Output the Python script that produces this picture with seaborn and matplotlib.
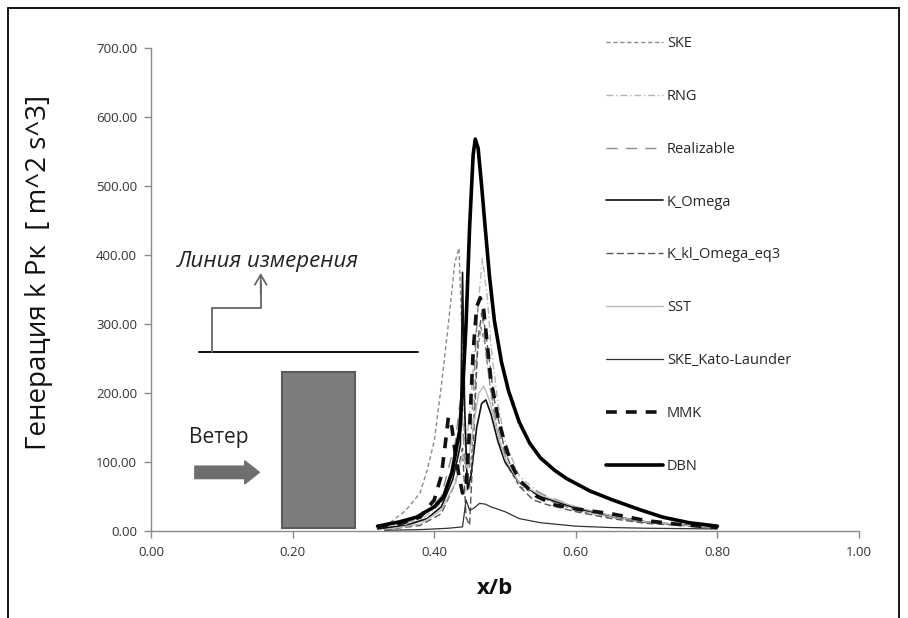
import numpy as np
import pandas as pd
import matplotlib
matplotlib.use("Agg")
import matplotlib.pyplot as plt
import seaborn as sns
from matplotlib.patches import Rectangle, FancyArrowPatch

# ---------------- data ----------------
ske_x = [0.32, 0.34, 0.36, 0.38, 0.39, 0.40, 0.41, 0.42, 0.429, 0.435, 0.44, 0.445, 0.45, 0.455, 0.46, 0.466, 0.472, 0.48, 0.49, 0.50, 0.52, 0.54, 0.56, 0.60, 0.65, 0.70, 0.80]
ske_y = [4, 14, 30, 55, 88, 130, 210, 300, 388, 410, 260, 90, 60, 150, 250, 295, 270, 200, 140, 100, 65, 55, 45, 30, 20, 12, 5]

rng_x = [0.33, 0.38, 0.41, 0.43, 0.44, 0.445, 0.45, 0.46, 0.468, 0.475, 0.48, 0.49, 0.50, 0.52, 0.54, 0.56, 0.60, 0.65, 0.70, 0.80]
rng_y = [3, 15, 40, 100, 160, 120, 170, 300, 395, 340, 270, 185, 130, 80, 62, 48, 32, 20, 12, 5]

real_x = [0.33, 0.38, 0.41, 0.43, 0.438, 0.443, 0.448, 0.455, 0.462, 0.468, 0.475, 0.485, 0.50, 0.52, 0.54, 0.56, 0.60, 0.65, 0.70, 0.80]
real_y = [3, 18, 50, 130, 200, 100, 60, 200, 330, 310, 240, 170, 110, 70, 60, 50, 35, 22, 13, 5]

kom_x = [0.32, 0.36, 0.39, 0.41, 0.426, 0.434, 0.437, 0.44, 0.443, 0.447, 0.452, 0.46, 0.467, 0.473, 0.48, 0.49, 0.50, 0.52, 0.55, 0.60, 0.65, 0.70, 0.80]
kom_y = [3, 8, 18, 35, 74, 110, 125, 375, 180, 60, 80, 150, 185, 190, 170, 130, 100, 70, 50, 33, 22, 13, 5]

kkl_x = [0.33, 0.38, 0.41, 0.43, 0.44, 0.445, 0.45, 0.455, 0.462, 0.468, 0.475, 0.485, 0.50, 0.52, 0.54, 0.56, 0.60, 0.65, 0.70, 0.80]
kkl_y = [2, 8, 25, 70, 120, 20, 8, 120, 280, 320, 270, 190, 115, 65, 45, 38, 28, 18, 11, 5]

sst_x = [0.33, 0.38, 0.41, 0.43, 0.44, 0.447, 0.455, 0.463, 0.47, 0.478, 0.49, 0.50, 0.52, 0.55, 0.60, 0.65, 0.70, 0.80]
sst_y = [2, 10, 30, 70, 110, 90, 150, 200, 210, 190, 140, 105, 70, 52, 35, 22, 13, 5]

kl_x = [0.33, 0.38, 0.42, 0.44, 0.445, 0.45, 0.456, 0.464, 0.472, 0.48, 0.50, 0.52, 0.55, 0.60, 0.65, 0.70, 0.80]
kl_y = [1, 2, 4, 6, 45, 30, 33, 40, 39, 35, 28, 18, 12, 7, 5, 4, 3]

mmk_x = [0.32, 0.35, 0.38, 0.40, 0.41, 0.415, 0.42, 0.425, 0.43, 0.435, 0.44, 0.445, 0.45, 0.455, 0.46, 0.465, 0.47, 0.475, 0.48, 0.49, 0.50, 0.51, 0.52, 0.545, 0.57, 0.60, 0.65, 0.70, 0.75, 0.80]
mmk_y = [5, 10, 20, 45, 80, 120, 165, 150, 110, 80, 55, 60, 150, 260, 325, 338, 320, 270, 220, 165, 125, 95, 74, 50, 38, 32, 25, 15, 9, 5]

dbn_x = [0.32, 0.35, 0.375, 0.40, 0.413, 0.425, 0.436, 0.441, 0.445, 0.45, 0.455, 0.458, 0.462, 0.467, 0.472, 0.478, 0.485, 0.495, 0.505, 0.52, 0.535, 0.55, 0.57, 0.587, 0.62, 0.652, 0.69, 0.723, 0.76, 0.80]
dbn_y = [7, 13, 20, 35, 49, 85, 146, 220, 300, 440, 545, 568, 555, 500, 440, 370, 305, 245, 203, 158, 127, 106, 88, 76, 58, 45, 31, 20, 12, 7]

series_names = ["SKE", "RNG", "Realizable", "K_Omega", "K_kl_Omega_eq3", "SST",
                "SKE_Kato-Launder", "MMK", "DBN"]
series_x = [ske_x, rng_x, real_x, kom_x, kkl_x, sst_x, kl_x, mmk_x, dbn_x]
series_y = [ske_y, rng_y, real_y, kom_y, kkl_y, sst_y, kl_y, mmk_y, dbn_y]

x_ticks = [0.0, 0.2, 0.4, 0.6, 0.8, 1.0]
y_ticks = [0, 100, 200, 300, 400, 500, 600, 700]

styles = {
    "SKE":              dict(color="#8a8a8a", lw=1.0, dashes=(3, 2)),
    "RNG":              dict(color="#b5b5b5", lw=1.0, dashes=(5, 2, 1, 2)),
    "Realizable":       dict(color="#8c8c8c", lw=1.0, dashes=(8, 6)),
    "K_Omega":          dict(color="#111111", lw=1.2, dashes=None),
    "K_kl_Omega_eq3":   dict(color="#555555", lw=1.0, dashes=(5, 2.5)),
    "SST":              dict(color="#b8b8b8", lw=1.0, dashes=None),
    "SKE_Kato-Launder": dict(color="#333333", lw=0.9, dashes=None),
    "MMK":              dict(color="#111111", lw=2.6, dashes=(3, 2.5)),
    "DBN":              dict(color="#000000", lw=2.6, dashes=None),
}

# ---------------- figure ----------------
sns.set_theme(style="white")
plt.rcParams["font.family"] = ["Open Sans", "DejaVu Sans"]

W, H = 908, 618
fig = plt.figure(figsize=(W / 100, H / 100), dpi=100)
ax = fig.add_axes([151 / W, 1 - 531 / H, (859 - 151) / W, (531 - 48) / H])

for name, xs, ys in zip(series_names, series_x, series_y):
    st = styles[name]
    df = pd.DataFrame({"x": xs, "y": ys})
    sns.lineplot(data=df, x="x", y="y", ax=ax, color=st["color"], lw=st["lw"],
                 label=name, sort=False, estimator=None)
    line = ax.get_lines()[-1]
    if st["dashes"] is not None:
        line.set_dashes(st["dashes"])
    line.set_solid_joinstyle("round")

ax.set_xlim(0, 1.0)
ax.set_ylim(0, 700)
ax.set_xticks(x_ticks)
ax.set_yticks(y_ticks)
ax.set_xticklabels([f"{v:.2f}" for v in x_ticks])
ax.set_yticklabels([f"{v:.2f}" for v in y_ticks])
ax.tick_params(axis="both", which="major", direction="out", length=5, width=1,
               color="#8a8a8a", labelsize=9.5, labelcolor="#333333", pad=6,
               left=True, bottom=True)
ax.tick_params(axis="y", pad=5)
for s in ["top", "right"]:
    ax.spines[s].set_visible(False)
for s in ["left", "bottom"]:
    ax.spines[s].set_color("#8a8a8a")
    ax.spines[s].set_linewidth(1.0)

ax.set_xlabel("x/b", fontsize=16, fontweight="bold", color="#111111")
ax.xaxis.set_label_coords((495 - 151) / 708, -(578 - 531) / 483)
ax.set_ylabel("Генерация k Pк  [ m^2 s^3]", fontsize=20, color="#111111")
ax.yaxis.set_label_coords((53 - 151) / 708, (531 - 272) / 483)

# ---------------- inset sketch ----------------
ax.add_patch(Rectangle((0.185, 5), 0.103, 226, facecolor="#7d7d7d",
                       edgecolor="#5c5c5c", lw=1.5, zorder=3))
ax.plot([0.068, 0.377], [260, 260], color="#111111", lw=1.4, zorder=3)
ax.plot([0.0866, 0.0866, 0.155, 0.155], [260, 323, 323, 360], color="#666666",
        lw=1.3, zorder=3)
ax.annotate("", xy=(0.155, 378), xytext=(0.155, 340),
            arrowprops=dict(arrowstyle="->,head_width=0.35,head_length=0.6",
                            color="#666666", lw=1.3), zorder=3)
ax.text(0.037, 390, "Линия измерения", fontsize=16, fontstyle="italic",
        color="#222222", va="center", ha="left")
ax.text(0.054, 136, "Ветер", fontsize=15, color="#222222", va="center", ha="left")
ax.add_patch(FancyArrowPatch((0.058, 85), (0.157, 85),
                             arrowstyle="simple,head_width=1.1,head_length=0.7,tail_width=0.6",
                             mutation_scale=15, color="#6e6e6e", zorder=3))

# ---------------- legend ----------------
handles, labels = ax.get_legend_handles_labels()
if ax.legend_:
    ax.legend_.remove()
fig.legend(handles, labels, loc="upper left", bbox_to_anchor=(600 / W, 1 - 30 / H),
           frameon=False, fontsize=10.5, handlelength=3.9, handletextpad=0.3,
           labelspacing=2.6, borderaxespad=0)

# ---------------- outer frame ----------------
fig.patches.append(Rectangle((8 / W, -0.05), (899 - 8) / W, 1.05 - 8 / H,
                             transform=fig.transFigure, fill=False,
                             edgecolor="#000000", lw=1.3, clip_on=False))

fig.savefig("out.png", dpi=100, facecolor="white")
